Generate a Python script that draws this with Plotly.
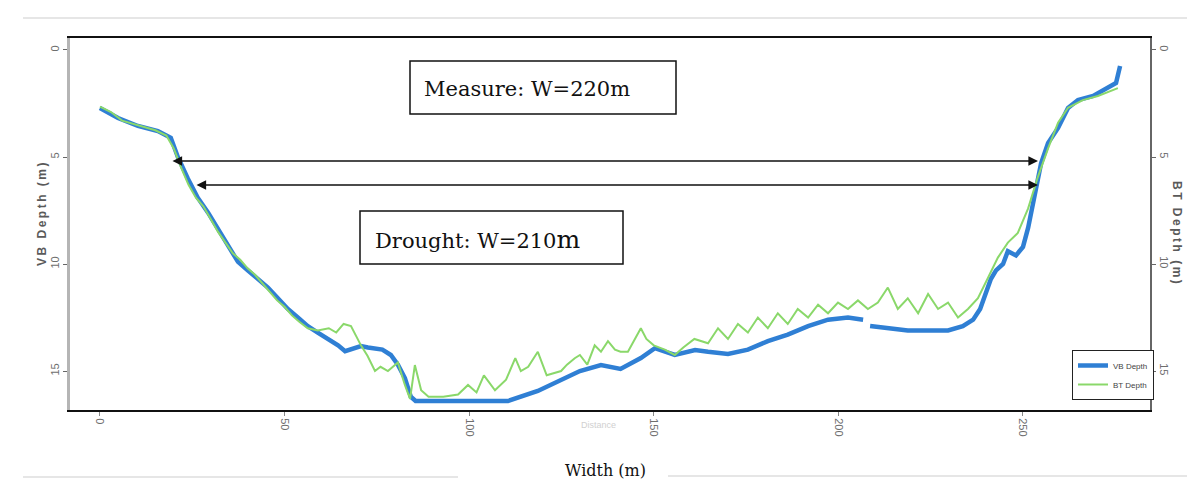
import plotly.graph_objects as go

# ---------------- data (width in m, depth in m) ----------------
vb_x = [0, 4.9, 10.3, 15.7, 19.2, 21.1, 23.8, 26.5, 29.3, 32.0,
        34.7, 37.4, 40.1, 42.8, 45.5, 48.2, 50.9, 53.6, 56.3, 59.0,
        61.8, 64.5, 66.4, 68.5, 70.7, 72.6, 74.5, 76.5, 78.8, 80.7,
        82.6, 84.2, 85.5, 88.8, 97.0, 104.0, 110.5, 118.6, 124.0, 130.0,
        135.7, 141.0, 146.5, 150.3, 155.7, 161.2, 164.7, 170.1, 175.5, 180.9,
        186.3, 191.8, 197.2, 202.6, 206.7, 207.6, 208.6, 213.4, 218.8, 224.3,
        229.7, 233.7, 236.5, 238.4, 240.0, 241.3, 242.7, 244.6, 245.9, 248.1,
        250.0, 251.4, 253.5, 254.9, 256.8, 259.5, 262.2, 264.9, 269.0, 273.0,
        275.2, 276.3]
vb_depth = [2.71, 3.18, 3.55, 3.79, 4.1, 5.0, 6.0, 6.9, 7.6, 8.4,
            9.2, 9.9, 10.3, 10.7, 11.1, 11.6, 12.1, 12.5, 12.9, 13.2,
            13.5, 13.8, 14.07, 13.95, 13.83, 13.9, 13.93, 14.0, 14.25, 14.7,
            15.33, 16.2, 16.4, 16.4, 16.36, 16.36, 16.4, 15.93, 15.47, 15.0,
            14.72, 14.9, 14.39, 13.93, 14.25, 14.02, 14.1, 14.2, 14.0, 13.6,
            13.3, 12.9, 12.6, 12.5, 12.6, None, 12.9, 13.0, 13.1, 13.1,
            13.1, 12.9, 12.6, 12.1, 11.4, 10.7, 10.3, 10.0, 9.4, 9.6,
            9.2, 8.3, 6.5, 5.3, 4.35, 3.64, 2.71, 2.34, 2.15, 1.78,
            1.54, 0.75]

bt_x = [0, 3, 6, 9, 12, 15, 18, 20, 22, 24,
        26, 28, 30, 32, 34, 36, 38, 40, 42, 44,
        46, 48, 50, 52, 54, 56.3, 59, 62, 64, 66,
        68, 70.7, 72.5, 74.5, 76, 78, 80.7, 82.6, 84, 85.3,
        87, 89, 93, 97, 99.7, 102, 104, 107, 110, 112.5,
        114, 116, 118.6, 121, 124.9, 126.5, 128.6, 130, 132, 134,
        135.7, 137.6, 139.5, 141, 143, 146.5, 148, 150, 153, 155.7,
        158, 161, 164.7, 167.4, 170.1, 172.8, 175.5, 178.2, 180.9, 183.6,
        186.3, 189, 191.8, 194.5, 197.2, 199.9, 202.6, 205.3, 208, 210.7,
        213.4, 216.1, 218.8, 221.6, 224.3, 227, 229.7, 232.4, 235.1, 237.8,
        240.5, 243.2, 245.9, 248.6, 251.4, 253.9, 256.8, 259.5, 262.2, 266.2,
        270.3, 274.4, 275.7]
bt_depth = [2.65, 2.9, 3.3, 3.45, 3.6, 3.75, 4.0, 4.6, 5.5, 6.3,
            6.9, 7.3, 7.9, 8.5, 9.0, 9.5, 9.8, 10.2, 10.5, 10.9,
            11.3, 11.7, 12.0, 12.4, 12.7, 13.0, 13.1, 13.0, 13.2, 12.8,
            12.9, 13.8, 14.3, 15.0, 14.8, 15.0, 14.6, 15.65, 16.3, 14.72,
            15.9, 16.2, 16.2, 16.1, 15.65, 16.0, 15.2, 15.9, 15.4, 14.4,
            15.0, 14.8, 14.1, 15.2, 15.0, 14.7, 14.4, 14.25, 14.7, 13.8,
            14.1, 13.6, 14.0, 14.1, 14.1, 13.0, 13.5, 13.8, 14.0, 14.25,
            13.9, 13.5, 13.7, 13.0, 13.5, 12.8, 13.2, 12.5, 13.0, 12.3,
            12.8, 12.1, 12.5, 11.9, 12.3, 11.8, 12.1, 11.7, 12.1, 11.8,
            11.1, 12.1, 11.6, 12.3, 11.4, 12.1, 11.8, 12.5, 12.1, 11.6,
            10.65, 9.7, 9.0, 8.55, 7.4, 6.0, 4.6, 3.4, 2.7, 2.34,
            2.15, 1.87, 1.78]

x_ticks = [0, 50, 100, 150, 200, 250]
depth_ticks = [0, 5, 10, 15]

# ---------------- figure ----------------
W, H = 1195, 487
L, R, T, B = 62, 1142, 30, 402   # plot area in pixels


def px(xp):
    return (xp - L) / (R - L)


def py(yp):
    return (B - yp) / (B - T)


fig = go.Figure()
fig.add_trace(go.Scatter(x=vb_x, y=vb_depth, name="VB Depth", mode="lines",
                         line=dict(color="#2f7fd4", width=4.5), connectgaps=False))
fig.add_trace(go.Scatter(x=bt_x, y=bt_depth, name="BT Depth", mode="lines",
                         line=dict(color="#8ad86a", width=2), yaxis="y2"))

tickfont = dict(family="Liberation Sans, Arial, sans-serif", size=11, color="#6e6e6e")
yrange = [16.82, -0.56]

fig.update_layout(
    width=W, height=H, autosize=False,
    margin=dict(l=L, r=W - R, t=T, b=H - B),
    paper_bgcolor="white", plot_bgcolor="white",
    showlegend=True,
    legend=dict(x=px(1064), y=py(342), xanchor="left", yanchor="top",
                bgcolor="white", bordercolor="#222", borderwidth=1,
                font=dict(family="Liberation Sans, Arial", size=8, color="#444"),
                itemwidth=30, tracegroupgap=0),
    xaxis=dict(range=[-8.1, 284.4], tickvals=x_ticks, tickangle=90,
               showgrid=False, zeroline=False, showline=True, linecolor="#111",
               linewidth=2, mirror=True, ticks="outside", ticklen=4,
               tickcolor="#888", tickfont=tickfont),
    yaxis=dict(range=yrange, tickvals=depth_ticks, tickangle=-90,
               showgrid=False, zeroline=False, showline=True, linecolor="#b5b5b5",
               linewidth=3, ticks="outside", ticklen=4, tickcolor="#666",
               tickfont=tickfont),
    yaxis2=dict(range=yrange, tickvals=depth_ticks, tickangle=90, overlaying="y",
                side="right", showgrid=False, zeroline=False, showline=True,
                linecolor="#666", linewidth=2, ticks="outside", ticklen=4,
                tickcolor="#666", tickfont=tickfont),
)

serif = "DejaVu Serif, Liberation Serif, serif"
shapes = [
    # measure box
    dict(type="rect", xref="paper", yref="paper", x0=px(402), x1=px(668),
         y0=py(106), y1=py(53), line=dict(color="#111", width=1.5), fillcolor="white"),
    # drought box
    dict(type="rect", xref="paper", yref="paper", x0=px(352), x1=px(615),
         y0=py(256), y1=py(203), line=dict(color="#111", width=1.5), fillcolor="white"),
    # faint page lines
    dict(type="line", xref="paper", yref="paper", x0=px(15), x1=px(1195),
         y0=py(10), y1=py(10), line=dict(color="#e6e6e6", width=2)),
    dict(type="line", xref="paper", yref="paper", x0=px(15), x1=px(450),
         y0=py(469), y1=py(469), line=dict(color="#e6e6e6", width=2)),
    dict(type="line", xref="paper", yref="paper", x0=px(660), x1=px(1195),
         y0=py(468), y1=py(468), line=dict(color="#e6e6e6", width=2)),
]
fig.update_layout(shapes=shapes)

title_font = dict(family="Liberation Sans, Arial", size=12, color="#5a5a5a")
annotations = [
    dict(xref="paper", yref="paper", x=px(414), y=py(81), xanchor="left",
         yanchor="middle", showarrow=False, text="Measure: W=220m",
         font=dict(family=serif, size=21, color="#111")),
    dict(xref="paper", yref="paper", x=px(365), y=py(231), xanchor="left",
         yanchor="middle", showarrow=False,
         text="Drought: W=210<span style='font-size:25px'>m</span>",
         font=dict(family=serif, size=21, color="#111")),
    # double headed arrows
    dict(xref="paper", yref="paper", x=px(1030), y=py(153), ax=-(1030 - 163), ay=0,
         axref="pixel", ayref="pixel", text="", showarrow=True, arrowhead=2,
         startarrowhead=2, arrowside="end+start", arrowsize=1.2, startarrowsize=1.2,
         arrowwidth=1.6, arrowcolor="#111"),
    dict(xref="paper", yref="paper", x=px(1030), y=py(177), ax=-(1030 - 187), ay=0,
         axref="pixel", ayref="pixel", text="", showarrow=True, arrowhead=2,
         startarrowhead=2, arrowside="end+start", arrowsize=1.2, startarrowsize=1.2,
         arrowwidth=1.6, arrowcolor="#111"),
    # axis titles
    dict(xref="paper", yref="paper", x=px(25), y=py(205), textangle=-90,
         showarrow=False,
         text="<b><span style='letter-spacing:2.5px'>VB Depth (m)</span></b>",
         font=title_font),
    dict(xref="paper", yref="paper", x=px(1178), y=py(225), textangle=90,
         showarrow=False,
         text="<b><span style='letter-spacing:2.5px'>BT Depth (m)</span></b>",
         font=title_font),
    dict(xref="paper", yref="paper", x=px(590), y=py(424), showarrow=False,
         text="Distance", font=dict(family="Liberation Sans, Arial", size=9, color="#d0d0d0")),
    dict(xref="paper", yref="paper", x=px(597), y=py(474), showarrow=False,
         text="Width (m)", font=dict(family=serif, size=16, color="#111")),
]
fig.update_layout(annotations=annotations)

fig.write_html("out.html")
